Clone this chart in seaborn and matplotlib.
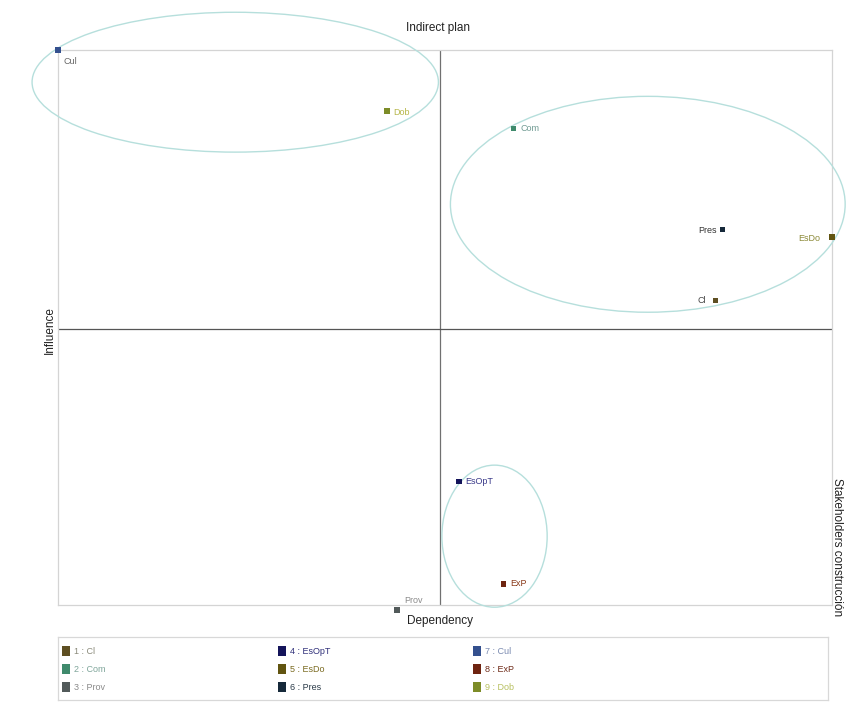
import numpy as np
import pandas as pd
import matplotlib
matplotlib.use("Agg")
import matplotlib.pyplot as plt
from matplotlib.patches import Ellipse, Rectangle
import seaborn as sns

# Variables: short names, dependency (x) and influence (y) scores
codes = ["Cl", "Com", "Prov", "EsOpT", "EsDo", "Pres", "Cul", "ExP", "Dob"]
dependency = [84.9, 58.8, 43.8, 51.8, 100.0, 85.9, 0.0, 57.6, 42.5]
influence = [54.8, 85.8, -0.9, 22.2, 66.3, 67.6, 100.0, 3.8, 89.0]

marker_colors = ["#5e4f22", "#3f8a6c", "#525a5a", "#14145a", "#615410",
                 "#16293a", "#34508e", "#6e2410", "#7d8c28"]
label_colors = ["#444444", "#6f9a92", "#8a8a8a", "#3a3a8a", "#8c8a38",
                "#333333", "#666666", "#8a3a1a", "#b6b648"]
legend_text_colors = ["#8a8a7a", "#7fa59a", "#8a8a8a", "#30307a", "#7a6a20",
                      "#2a3a48", "#7a8ab0", "#6e2a18", "#b8c060"]

# label offsets (pixels) and alignment per variable
label_dx = [-9, 7, 7, 6, -12, -6, 6, 6, 6]
label_dy = [0, 0, 9, 0, -1, -1, -11, 0, -1]
label_ha = ["right", "left", "left", "left", "right", "right", "left", "left", "left"]

# Cluster ellipses: centre x, centre y, width, height (data units)
ell_cx = [22.9, 76.2, 56.4]
ell_cy = [94.2, 72.2, 12.4]
ell_w = [52.5, 51.0, 13.6]
ell_h = [25.2, 38.9, 25.6]

# Crosshair position
x_mid = 49.4
y_mid = 49.8

df = pd.DataFrame({"code": codes, "Dependency": dependency, "Influence": influence})

sns.set_theme(style="white")
plt.rcParams["font.family"] = ["Liberation Sans", "DejaVu Sans"]

W, H = 868, 702
fig = plt.figure(figsize=(W / 100, H / 100), dpi=100)
ax = fig.add_axes([58 / W, (H - 605) / H, 774 / W, 555 / H])

sns.scatterplot(data=df, x="Dependency", y="Influence", hue="code",
                palette=dict(zip(codes, marker_colors)), marker="s", s=14,
                linewidth=0, legend=False, ax=ax, zorder=5, clip_on=False)

ax.set_xlim(0, 100)
ax.set_ylim(0, 100)
ax.set_xticks([])
ax.set_yticks([])
ax.set_xlabel("")
ax.set_ylabel("")
for sp in ax.spines.values():
    sp.set_color("#d4d4d4")
    sp.set_linewidth(0.9)

ax.axvline(x_mid, color="#707070", lw=0.9, zorder=2)
ax.axhline(y_mid, color="#555555", lw=0.9, zorder=2)

for cx, cy, w, h in zip(ell_cx, ell_cy, ell_w, ell_h):
    ax.add_patch(Ellipse((cx, cy), w, h, fill=False, edgecolor="#b6dfdc",
                         lw=1.0, clip_on=False, zorder=3))

for i, c in enumerate(codes):
    ax.annotate(c, (dependency[i], influence[i]), xytext=(label_dx[i], label_dy[i]),
                textcoords="offset pixels", ha=label_ha[i], va="center",
                fontsize=6.5, color=label_colors[i], zorder=6, annotation_clip=False)

fig.text(438 / W, 1 - 28 / H, "Indirect plan", ha="center", va="center",
         fontsize=8.5, color="#222222")
fig.text(440 / W, 1 - 621 / H, "Dependency", ha="center", va="center",
         fontsize=8.5, color="#222222")
fig.text(50 / W, 1 - 330 / H, "Influence", ha="center", va="center",
         rotation=90, fontsize=8.5, color="#222222")
fig.text(837 / W, 1 - 547 / H, "Stakeholders construcción", ha="center",
         va="center", rotation=-90, fontsize=8.5, color="#222222")

# Legend panel
lax = fig.add_axes([58 / W, (H - 700) / H, 770 / W, 63 / H])
lax.set_xlim(0, 770)
lax.set_ylim(63, 0)
lax.set_xticks([])
lax.set_yticks([])
for sp in lax.spines.values():
    sp.set_color("#d8d8d8")
    sp.set_linewidth(0.9)
col_x = [8, 224, 419]
row_y = [14, 32, 50]
for i, c in enumerate(codes):
    cx = col_x[i // 3]
    ry = row_y[i % 3]
    lax.add_patch(Rectangle((cx - 4, ry - 5), 8, 10, facecolor=marker_colors[i],
                            edgecolor="none"))
    lax.text(cx + 8, ry, f"{i + 1} : {c}", ha="left", va="center",
             fontsize=6.5, color=legend_text_colors[i])

fig.savefig("out.png", dpi=100)
